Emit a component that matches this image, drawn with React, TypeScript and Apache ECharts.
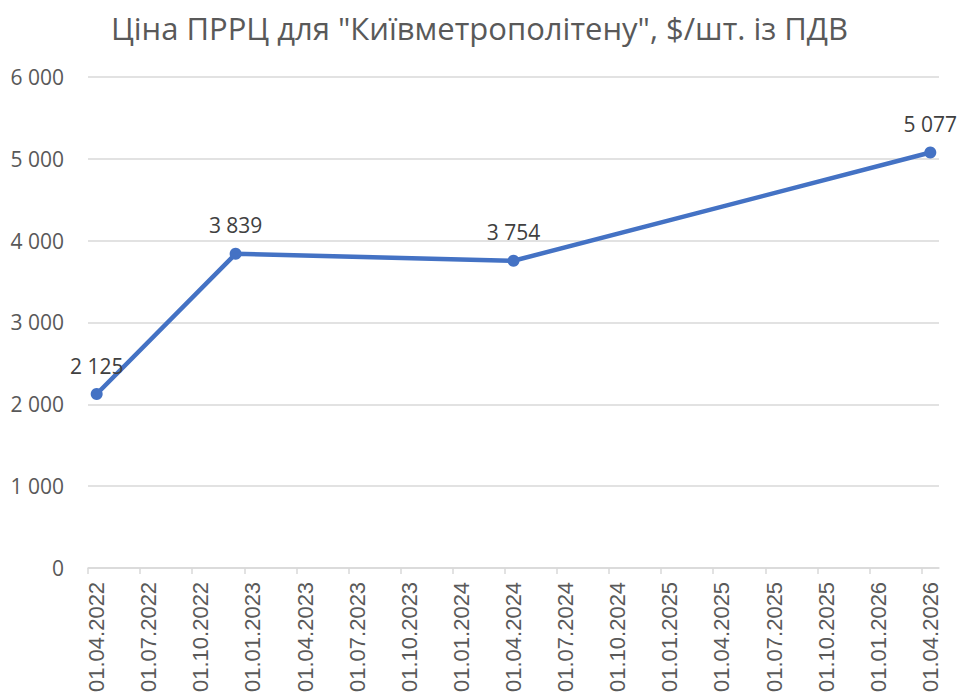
import React, { useEffect, useRef } from "react";
import * as echarts from "echarts";

const titleText = 'Ціна ПРРЦ для "Київметрополітену", $/шт. із ПДВ';
const pointDates = ["01.04.2022", "01.12.2022", "01.04.2024", "01.04.2026"];
const prices = [2125, 3839, 3754, 5077];
const tickLabels = [
  "01.04.2022", "01.07.2022", "01.10.2022", "01.01.2023", "01.04.2023",
  "01.07.2023", "01.10.2023", "01.01.2024", "01.04.2024", "01.07.2024",
  "01.10.2024", "01.01.2025", "01.04.2025", "01.07.2025", "01.10.2025",
  "01.01.2026", "01.04.2026",
];
const yTicks = [0, 1000, 2000, 3000, 4000, 5000, 6000];

const START_YEAR = 2022;
const START_MONTH = 4;
const MONTHS_PER_TICK = 3;

function monthIndex(d: string): number {
  const [, mm, yyyy] = d.split(".").map(Number);
  return (yyyy - START_YEAR) * 12 + (mm - START_MONTH);
}

function fmt(n: number): string {
  return String(Math.round(n)).replace(/\B(?=(\d{3})+(?!\d))/g, " ");
}

export default function App() {
  const ref = useRef<HTMLDivElement>(null);
  useEffect(() => {
    if (!ref.current) return;
    const chart = echarts.init(ref.current, undefined, { renderer: "svg" });
    const tickVals = tickLabels.map((_, i) => i * MONTHS_PER_TICK);
    const labelVals = tickVals.map((v) => v + 0.5);
    const totalMonths = tickVals[tickVals.length - 1] + 1;
    const data = pointDates.map((d, i) => [monthIndex(d) + 0.5, prices[i]]);
    chart.setOption({
      animation: false,
      backgroundColor: "#ffffff",
      title: {
        text: titleText,
        left: "center",
        top: 7,
        textStyle: {
          fontFamily: "Open Sans",
          fontSize: 31,
          fontWeight: "normal",
          color: "#595959",
        },
      },
      grid: { left: 88, right: 20, top: 77, bottom: 124.5, containLabel: false },
      xAxis: {
        type: "value",
        min: 0,
        max: totalMonths,
        splitLine: { show: false },
        axisLine: { show: true, lineStyle: { color: "#d9d9d9", width: 1.5 } },
        axisTick: {
          show: true,
          length: 6,
          customValues: tickVals,
          lineStyle: { color: "#d9d9d9", width: 1.5 },
        },
        axisLabel: {
          customValues: labelVals,
          rotate: 90,
          margin: 14,
          fontFamily: "Liberation Sans",
          fontSize: 22,
          color: "#595959",
          formatter: (v: number) => tickLabels[Math.round((v - 0.5) / MONTHS_PER_TICK)] ?? "",
        },
      },
      yAxis: {
        type: "value",
        min: yTicks[0],
        max: yTicks[yTicks.length - 1],
        interval: 1000,
        axisLine: { show: false },
        axisTick: { show: false },
        splitLine: { show: true, lineStyle: { color: "#d9d9d9", width: 1.5 } },
        axisLabel: {
          margin: 24,
          fontFamily: "Open Sans",
          fontSize: 21,
          color: "#595959",
          formatter: (v: number) => fmt(v),
        },
      },
      series: [
        {
          type: "line",
          data,
          symbol: "circle",
          symbolSize: 12,
          lineStyle: { color: "#4472C4", width: 4.5 },
          itemStyle: { color: "#4472C4" },
          label: {
            show: true,
            position: "top",
            distance: 12,
            fontFamily: "Open Sans",
            fontSize: 21,
            color: "#404040",
            formatter: (p: any) => fmt(p.value[1]),
          },
        },
      ],
    });
    return () => chart.dispose();
  }, []);
  return (
    <div
      ref={ref}
      style={{ position: "fixed", left: 0, top: 0, width: 959, height: 695, background: "#fff" }}
    />
  );
}
